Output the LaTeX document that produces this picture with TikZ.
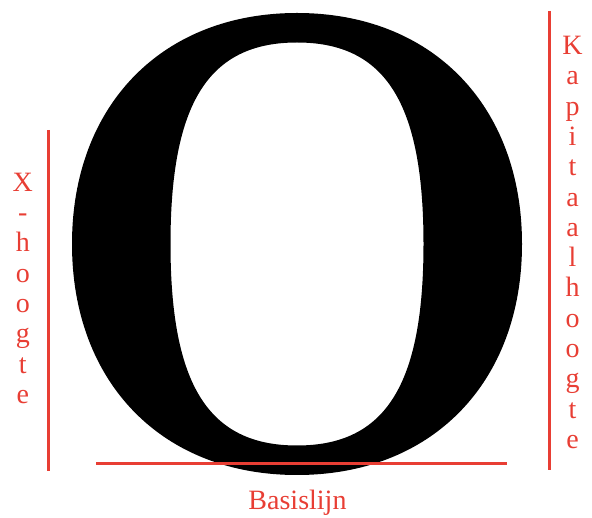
\documentclass[tikz,border=0pt]{standalone}
\usepackage{fontspec}
\setmainfont{Liberation Serif}
\definecolor{markred}{RGB}{232,62,52}
\begin{document}
\begin{tikzpicture}[x=1pt,y=-1pt,
  guide/.style={draw=markred,line width=3pt},
  lbl/.style={text=markred,inner sep=0pt,font=\fontsize{28}{30.3}\selectfont},
  vlbl/.style={lbl,align=center,anchor=center}]
\useasboundingbox (0,0) rectangle (592,518);
% the letter O
\fill[black,even odd rule]
  (297,13) .. controls (432,13) and (522,105.4) .. (522,244)
           .. controls (522,382.6) and (432,475) .. (297,475)
           .. controls (162,475) and (72,382.6) .. (72,244)
           .. controls (72,105.4) and (162,13) .. (297,13) -- cycle
  (297,42.5) .. controls (385.5,42.5) and (423.5,103) .. (423.5,244)
           .. controls (423.5,385) and (385.5,445.5) .. (297,445.5)
           .. controls (208.5,445.5) and (170.5,385) .. (170.5,244)
           .. controls (170.5,103) and (208.5,42.5) .. (297,42.5) -- cycle;
% guide lines
\coordinate (xtop) at (48.5,130);
\coordinate (xbot) at (48.5,471);
\coordinate (ktop) at (549,11);
\coordinate (kbot) at (549,470);
\coordinate (bl) at (96,463.5);
\coordinate (br) at (506.5,463.5);
\draw[guide] (xtop) -- (xbot);
\draw[guide] (ktop) -- (kbot);
\draw[guide] (bl) -- (br);
% labels
\node[vlbl] (xh) at (22.8,288.3) {X\\-\\h\\o\\o\\g\\t\\e};
\node[vlbl] (kh) at (572.5,242.5) {K\\a\\p\\i\\t\\a\\a\\l\\h\\o\\o\\g\\t\\e};
\node[lbl,anchor=base] (bas) at (297.5,510) {Basislijn};
\end{tikzpicture}
\end{document}
